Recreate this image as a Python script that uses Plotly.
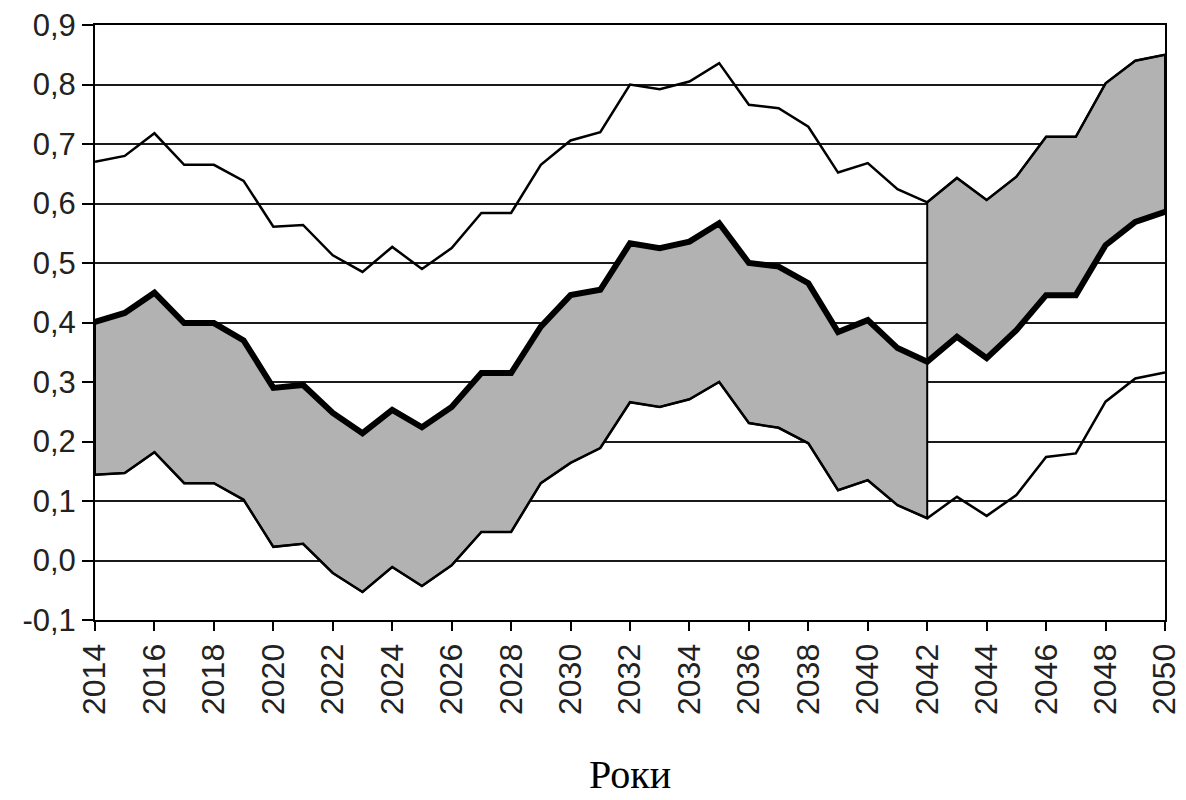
import plotly.graph_objects as go

years = list(range(2014, 2051))
upper = [0.67, 0.68, 0.718, 0.665, 0.665, 0.638, 0.561, 0.564, 0.513, 0.485, 0.527, 0.49, 0.525, 0.584, 0.584,
         0.665, 0.706, 0.72, 0.80, 0.792, 0.805, 0.836, 0.766, 0.76, 0.729, 0.652, 0.668, 0.624, 0.602,
         0.643, 0.606, 0.645, 0.712, 0.712, 0.802, 0.84, 0.85]
middle = [0.401, 0.416, 0.45, 0.399, 0.399, 0.37, 0.29, 0.295, 0.248, 0.214, 0.253, 0.224, 0.258, 0.315, 0.315,
          0.393, 0.446, 0.455, 0.533, 0.525, 0.536, 0.567, 0.50, 0.494, 0.466, 0.384, 0.404, 0.357, 0.334,
          0.376, 0.34, 0.387, 0.446, 0.446, 0.53, 0.569, 0.586]
lower = [0.144, 0.147, 0.182, 0.13, 0.13, 0.102, 0.023, 0.028, -0.021, -0.053, -0.011, -0.043, -0.008, 0.048, 0.048,
         0.13, 0.164, 0.189, 0.266, 0.258, 0.271, 0.30, 0.231, 0.223, 0.197, 0.118, 0.135, 0.093, 0.071,
         0.107, 0.075, 0.11, 0.174, 0.18, 0.267, 0.306, 0.316]

split_year = 2042
y_tickvals = [-0.1, 0.0, 0.1, 0.2, 0.3, 0.4, 0.5, 0.6, 0.7, 0.8, 0.9]
y_ticktext = ["-0,1", "0,0", "0,1", "0,2", "0,3", "0,4", "0,5", "0,6", "0,7", "0,8", "0,9"]
x_tickvals = list(range(2014, 2051, 2))
x_title = "Роки"

k = years.index(split_year)
fill_color = "#b2b2b2"

fig = go.Figure()

# band 1: between lower and middle, 2014..2042 (closed polygon)
xs1 = years[:k + 1] + years[:k + 1][::-1]
ys1 = lower[:k + 1] + middle[:k + 1][::-1]
x1 = xs1 + xs1[:1]
y1 = ys1 + ys1[:1]
fig.add_trace(go.Scatter(x=x1, y=y1, mode="lines", fill="toself", fillcolor=fill_color,
                         line=dict(color="black", width=2), hoverinfo="skip", showlegend=False))
# band 2: between middle and upper, 2042..2050 (closed polygon)
xs2 = years[k:] + years[k:][::-1]
ys2 = middle[k:] + upper[k:][::-1]
x2 = xs2 + xs2[:1]
y2 = ys2 + ys2[:1]
fig.add_trace(go.Scatter(x=x2, y=y2, mode="lines", fill="toself", fillcolor=fill_color,
                         line=dict(color="black", width=2), hoverinfo="skip", showlegend=False))

fig.add_trace(go.Scatter(x=years, y=upper, mode="lines", line=dict(color="black", width=2.5), showlegend=False))
fig.add_trace(go.Scatter(x=years, y=lower, mode="lines", line=dict(color="black", width=2.5), showlegend=False))
fig.add_trace(go.Scatter(x=years, y=middle, mode="lines", line=dict(color="black", width=6), showlegend=False))

fig.update_layout(
    width=1186, height=800,
    margin=dict(l=87, r=29, t=17, b=188),
    paper_bgcolor="white", plot_bgcolor="white",
    font=dict(family="Liberation Sans, Arial, sans-serif", size=31, color="#222"),
    showlegend=False,
)
fig.update_xaxes(
    range=[2014, 2050], tickmode="array", tickvals=x_tickvals, tickangle=-90,
    tickfont=dict(size=32), ticklabeloverflow="allow",
    ticks="outside", ticklen=9, tickwidth=1.5, tickcolor="black",
    showline=True, linecolor="black", linewidth=2, mirror=True,
    showgrid=False, zeroline=False, automargin=False,
    title=dict(text=x_title, font=dict(family="Liberation Serif, Times New Roman, serif", size=40, color="black"), standoff=46),
)
fig.update_yaxes(
    range=[-0.1, 0.9], tickmode="array", tickvals=y_tickvals, ticktext=y_ticktext,
    ticklabeloverflow="allow",
    ticks="outside", ticklen=11, tickwidth=2, tickcolor="black",
    showline=True, linecolor="black", linewidth=2, mirror=True,
    showgrid=True, gridcolor="#1a1a1a", gridwidth=2, zeroline=False, automargin=False,
)

fig.write_html("out.html")
